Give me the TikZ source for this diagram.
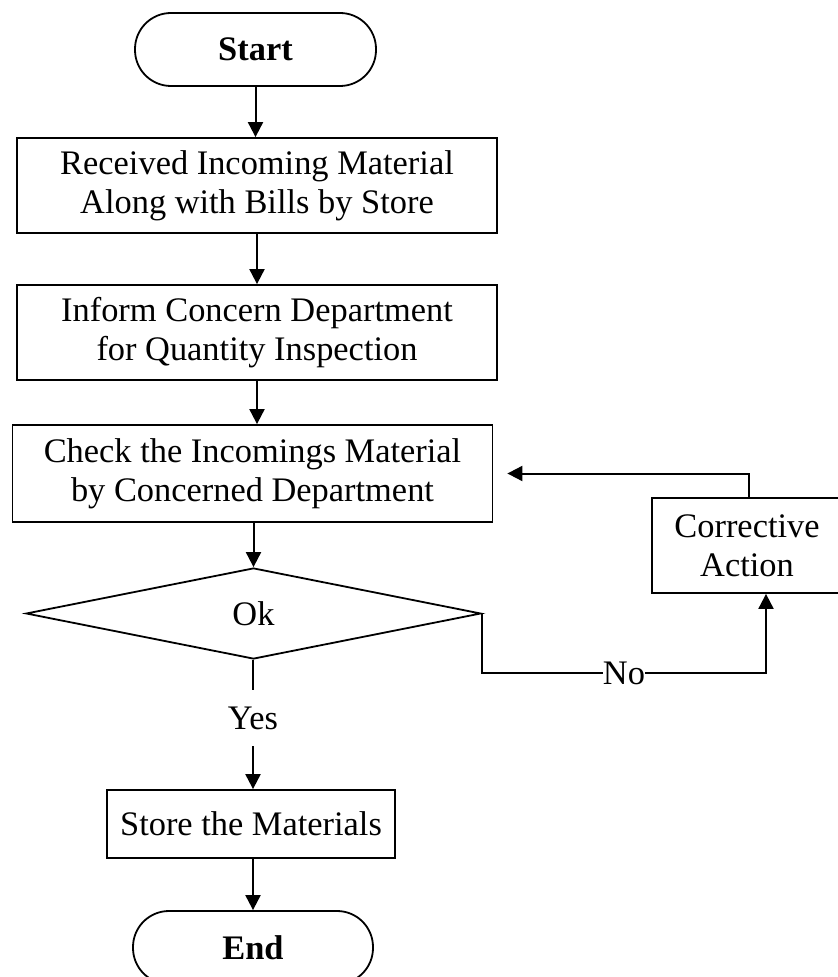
\documentclass[tikz,border=0pt]{standalone}
\usepackage{fontspec}
\setmainfont{Liberation Serif}
\usetikzlibrary{shapes.geometric,arrows.meta}
\newcommand{\flowfont}{\fontsize{17.2}{19.5}\selectfont}
\tikzset{
  flowline/.style={line width=1pt},
  flowarrow/.style={flowline,-{Triangle[length=7.5pt,width=7.5pt]}},
  process/.style={draw,line width=0.9pt,align=center,inner sep=0pt},
  terminal/.style={draw,line width=0.9pt,rounded corners=18pt,inner sep=0pt,
    minimum width=120.5pt,minimum height=36.5pt,font=\flowfont\bfseries},
  decision/.style={draw,diamond,line width=0.9pt,inner sep=0pt,aspect=5,
    minimum width=227.5pt,minimum height=45.5pt}
}
\begin{document}
\begin{tikzpicture}[x=0.5pt,y=-0.5pt,font=\flowfont]
  \clip (0,0) rectangle (838,977);
  % main column
  \node[terminal] (start) at (255.5,49.5) {Start};
  \node[process,minimum width=240pt,minimum height=47.5pt]
    (recv) at (257,185.5) {Received Incoming Material\\Along with Bills by Store};
  \node[process,minimum width=240pt,minimum height=47.5pt]
    (inform) at (257,332.5) {Inform Concern Department\\for Quantity Inspection};
  \node[process,minimum width=240pt,minimum height=48.5pt]
    (check) at (252.5,473.5) {Check the Incomings Material\\by Concerned Department};
  \node[decision] (ok) at (253.5,613.5) {Ok};
  \node[inner sep=0pt,minimum height=28pt] (yes) at (253,718) {Yes};
  \node[process,minimum width=144pt,minimum height=34pt]
    (store) at (251,824) {Store the Materials};
  \node[terminal,minimum width=120pt] (finish) at (253,947.5) {End};
  % side branch
  \node[process,minimum width=95pt,minimum height=47.5pt]
    (corr) at (747,545.5) {Corrective\\Action};
  \coordinate (nobend) at (766,673);
  \coordinate (fbbend) at (749,474);

  \draw[flowarrow] (start.south) -- (start.south |- recv.north);
  \draw[flowarrow] (recv.south) -- (inform.north);
  \draw[flowarrow] (inform.south) -- (inform.south |- check.north);
  \draw[flowarrow] (ok.north |- check.south) -- (ok.north);
  \draw[flowline] (yes.north |- ok.south) -- (yes.north);
  \draw[flowarrow] (yes.south) -- (yes.south |- store.north);
  \draw[flowarrow] (finish.north |- store.south) -- (finish.north);
  \draw[flowarrow] (ok.east) |- node[pos=0.75,fill=white,inner sep=0pt] (no) {No}
    (nobend) -- (nobend |- corr.south);
  \draw[flowarrow] (corr.north -| fbbend) |- ([xshift=7pt]check.east);
\end{tikzpicture}
\end{document}
